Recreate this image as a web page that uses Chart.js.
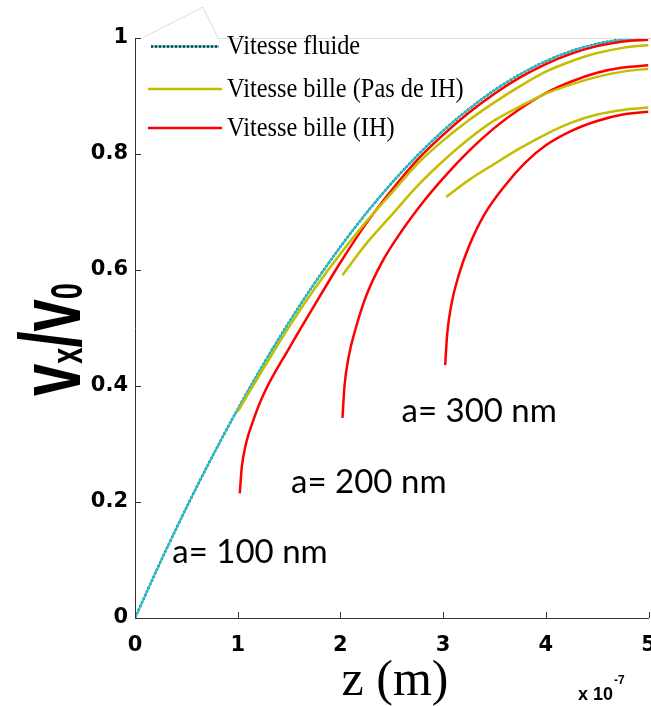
<!DOCTYPE html>
<html><head><meta charset="utf-8">
<script src="https://cdn.jsdelivr.net/npm/chart.js@4.4.1/dist/chart.umd.min.js"></script>
<style>html,body{margin:0;padding:0;background:#fff;}canvas{display:block;}</style>
</head><body>
<canvas id="c" width="651" height="706"></canvas>
<script>
// ---- tick labels ----
const xTickLabels = ['0','1','2','3','4','5'];
const yTickLabels = ['0','0.2','0.4','0.6','0.8','1'];

// ---- fluid velocity ----
const zFluid = [0,0.25,0.5,0.75,1,1.25,1.5,1.75,2,2.25,2.5,2.75,3,3.25,3.5,3.75,4,4.25,4.5,4.75,5];
const vFluid = [0,0.0975,0.19,0.2775,0.36,0.4375,0.51,0.5775,0.64,0.6975,0.75,0.7975,0.84,0.8775,0.91,0.9375,0.96,0.9775,0.99,0.9975,1.0];

// ---- bead velocity, no hydrodynamic interaction (Pas de IH) ----
const zNoIH100 = [1.0,1.25,1.5,1.75,2.0,2.25,2.5,2.75,3.0,3.25,3.5,3.75,4.0,4.25,4.5,4.75,5.0];
const vNoIH100 = [0.356,0.43,0.502,0.568,0.628,0.683,0.733,0.783,0.823,0.858,0.889,0.917,0.942,0.96,0.974,0.983,0.988];
const zNoIH200 = [2.02,2.25,2.5,2.75,3.0,3.25,3.5,3.75,4.0,4.25,4.5,4.75,5.0];
const vNoIH200 = [0.591,0.645,0.695,0.745,0.788,0.826,0.858,0.882,0.904,0.92,0.933,0.942,0.947];
const zNoIH300 = [3.03,3.25,3.5,3.75,4.0,4.25,4.5,4.75,5.0];
const vNoIH300 = [0.726,0.755,0.783,0.81,0.834,0.854,0.868,0.876,0.88];

// ---- bead velocity, with hydrodynamic interaction (IH) ----
const zIH100 = [1.02,1.04,1.08,1.15,1.25,1.5,1.75,2.0,2.25,2.5,2.75,3.0,3.25,3.5,3.75,4.0,4.25,4.5,4.75,5.0];
const vIH100 = [0.215,0.26,0.30,0.34,0.385,0.465,0.54,0.613,0.68,0.738,0.79,0.833,0.871,0.904,0.932,0.955,0.973,0.986,0.994,0.997];
const zIH200 = [2.02,2.04,2.08,2.15,2.25,2.4,2.6,2.8,3.0,3.25,3.5,3.75,4.0,4.25,4.5,4.75,5.0];
const vIH200 = [0.345,0.40,0.45,0.50,0.555,0.612,0.668,0.716,0.758,0.805,0.845,0.878,0.905,0.925,0.94,0.949,0.953];
const zIH300 = [3.02,3.04,3.08,3.15,3.25,3.4,3.6,3.8,4.0,4.25,4.5,4.75,5.0];
const vIH300 = [0.436,0.49,0.54,0.59,0.64,0.695,0.745,0.785,0.815,0.84,0.857,0.868,0.873];

// ---- texts ----
const legendLabels = ['Vitesse fluide','Vitesse bille (Pas de IH)','Vitesse bille (IH)'];
const sizeLabels = ['a= 100 nm','a= 200 nm','a= 300 nm'];
const xTitle = 'z (m)';
const xExponentBase = 'x 10';
const xExponent = '-7';

const pts = (zs, vs) => zs.map((z, i) => ({x: z, y: vs[i]}));

const YELLOW = '#c4bd00';
const RED = '#ff0000';
const CYAN = '#22c4cc';
const DOTS = '#333333';

const common = {pointRadius: 0, borderWidth: 2.5, fill: false, cubicInterpolationMode: 'monotone'};

const datasets = [
  {...common, label: legendLabels[1], data: pts(zNoIH100, vNoIH100), borderColor: YELLOW},
  {...common, label: legendLabels[1], data: pts(zNoIH200, vNoIH200), borderColor: YELLOW},
  {...common, label: legendLabels[1], data: pts(zNoIH300, vNoIH300), borderColor: YELLOW},
  {...common, label: legendLabels[2], data: pts(zIH100, vIH100), borderColor: RED},
  {...common, label: legendLabels[2], data: pts(zIH200, vIH200), borderColor: RED},
  {...common, label: legendLabels[2], data: pts(zIH300, vIH300), borderColor: RED},
  {...common, label: legendLabels[0], data: pts(zFluid, vFluid), borderColor: CYAN, borderWidth: 2},
  {...common, label: legendLabels[0], data: pts(zFluid, vFluid), borderColor: DOTS, borderWidth: 2.5, borderDash: [2, 2]}
];

const decorPlugin = {
  id: 'decor',
  afterDraw(chart) {
    const ctx = chart.ctx;
    const a = chart.chartArea;
    const xs = chart.scales.x, ys = chart.scales.y;
    ctx.save();
    // light top border and partial legend box outline
    ctx.strokeStyle = '#dcdcdc';
    ctx.lineWidth = 1;
    ctx.beginPath();
    ctx.moveTo(218, a.top + 0.5); ctx.lineTo(651, a.top + 0.5);
    ctx.moveTo(144, a.top - 1); ctx.lineTo(203, 7); ctx.lineTo(218, a.top);
    ctx.stroke();
    // inward tick marks
    ctx.strokeStyle = '#333';
    ctx.beginPath();
    xs.ticks.forEach(t => {
      const px = Math.round(xs.getPixelForValue(t.value)) + 0.5;
      ctx.moveTo(px, a.bottom); ctx.lineTo(px, a.bottom - 6);
    });
    ys.ticks.forEach(t => {
      const py = Math.round(ys.getPixelForValue(t.value)) + 0.5;
      ctx.moveTo(a.left, py); ctx.lineTo(a.left + 6, py);
    });
    ctx.stroke();

    // size annotations
    ctx.fillStyle = '#000';
    ctx.font = '33px Lato';
    ctx.textAlign = 'left';
    ctx.textBaseline = 'alphabetic';
    const annPos = [[0.363, 0.095], [1.52, 0.216], [2.595, 0.338]];
    sizeLabels.forEach((s, i) => {
      ctx.fillText(s, xs.getPixelForValue(annPos[i][0]), ys.getPixelForValue(annPos[i][1]));
    });

    // x title
    ctx.font = '50px "Liberation Serif"';
    ctx.textAlign = 'center';
    ctx.fillText(xTitle, 395, 695);
    // exponent
    ctx.textAlign = 'left';
    ctx.font = 'bold 18px "Liberation Sans"';
    ctx.fillText(xExponentBase, 578, 700);
    const w = ctx.measureText(xExponentBase).width;
    ctx.font = 'bold 12px "Liberation Sans"';
    ctx.fillText(xExponent, 578 + w + 1, 684);

    // y title: v_x / v_0 (rotated, stretched like the original)
    ctx.save();
    ctx.translate(80, 396);
    ctx.rotate(-Math.PI / 2);
    ctx.scale(1, 1.5);
    let cx = 0;
    const mainF = 'bold 58px "Liberation Sans"';
    const subF = 'bold 29px "Liberation Sans"';
    const parts = [['v', mainF, 0], ['x', subF, 1], ['/', mainF, 0], ['v', mainF, 0], ['0', subF, 1]];
    parts.forEach(p => {
      ctx.font = p[1];
      ctx.fillText(p[0], cx, p[2] ? 1 : 0);
      cx += ctx.measureText(p[0]).width;
    });
    ctx.restore();

    // legend
    const rows = [
      {y: 46.5, x0: 151, x1: 219},
      {y: 89, color: YELLOW, x0: 148, x1: 222},
      {y: 128, color: RED, x0: 148, x1: 222}
    ];
    rows.forEach((r, i) => {
      if (i === 0) {
        ctx.strokeStyle = CYAN; ctx.lineWidth = 2;
        ctx.beginPath(); ctx.moveTo(r.x0, r.y); ctx.lineTo(r.x1, r.y); ctx.stroke();
        ctx.strokeStyle = DOTS; ctx.lineWidth = 2.5; ctx.setLineDash([2, 2]);
        ctx.beginPath(); ctx.moveTo(r.x0, r.y); ctx.lineTo(r.x1, r.y); ctx.stroke();
        ctx.setLineDash([]);
      } else {
        ctx.strokeStyle = r.color; ctx.lineWidth = 2.5;
        ctx.beginPath(); ctx.moveTo(r.x0, r.y); ctx.lineTo(r.x1, r.y); ctx.stroke();
      }
      ctx.save();
      ctx.translate(227, r.y + 7.5);
      ctx.scale(0.87, 1);
      ctx.font = '28px "Liberation Serif"';
      ctx.fillStyle = '#000';
      ctx.textAlign = 'left';
      ctx.fillText(legendLabels[i], 0, 0);
      ctx.restore();
    });
    ctx.restore();
  }
};

new Chart(document.getElementById('c'), {
  type: 'line',
  data: {datasets},
  options: {
    responsive: false,
    animation: false,
    layout: {padding: {top: 38, right: 2.5, left: 0, bottom: 0}},
    plugins: {legend: {display: false}, tooltip: {enabled: false}, title: {display: false}},
    scales: {
      x: {
        type: 'linear', min: 0, max: 5,
        ticks: {stepSize: 1, autoSkip: false, maxRotation: 0, padding: 15, color: '#000',
          font: {family: 'DejaVu Sans', weight: 'bold', size: 21},
          callback: (v, i) => xTickLabels[i]},
        grid: {display: false, drawTicks: false},
        border: {display: true, color: '#333', width: 1},
        afterFit: s => { s.height = 88; s.paddingLeft = 0; s.paddingRight = 0; }
      },
      y: {
        type: 'linear', min: 0, max: 1,
        ticks: {stepSize: 0.2, autoSkip: false, padding: 7, color: '#000',
          font: {family: 'DejaVu Sans', weight: 'bold', size: 21},
          callback: (v, i) => yTickLabels[i]},
        grid: {display: false, drawTicks: false},
        border: {display: true, color: '#333', width: 1},
        afterFit: s => { s.width = 135; s.paddingTop = 0; s.paddingBottom = 0; }
      }
    }
  },
  plugins: [decorPlugin]
});
</script>
</body></html>
